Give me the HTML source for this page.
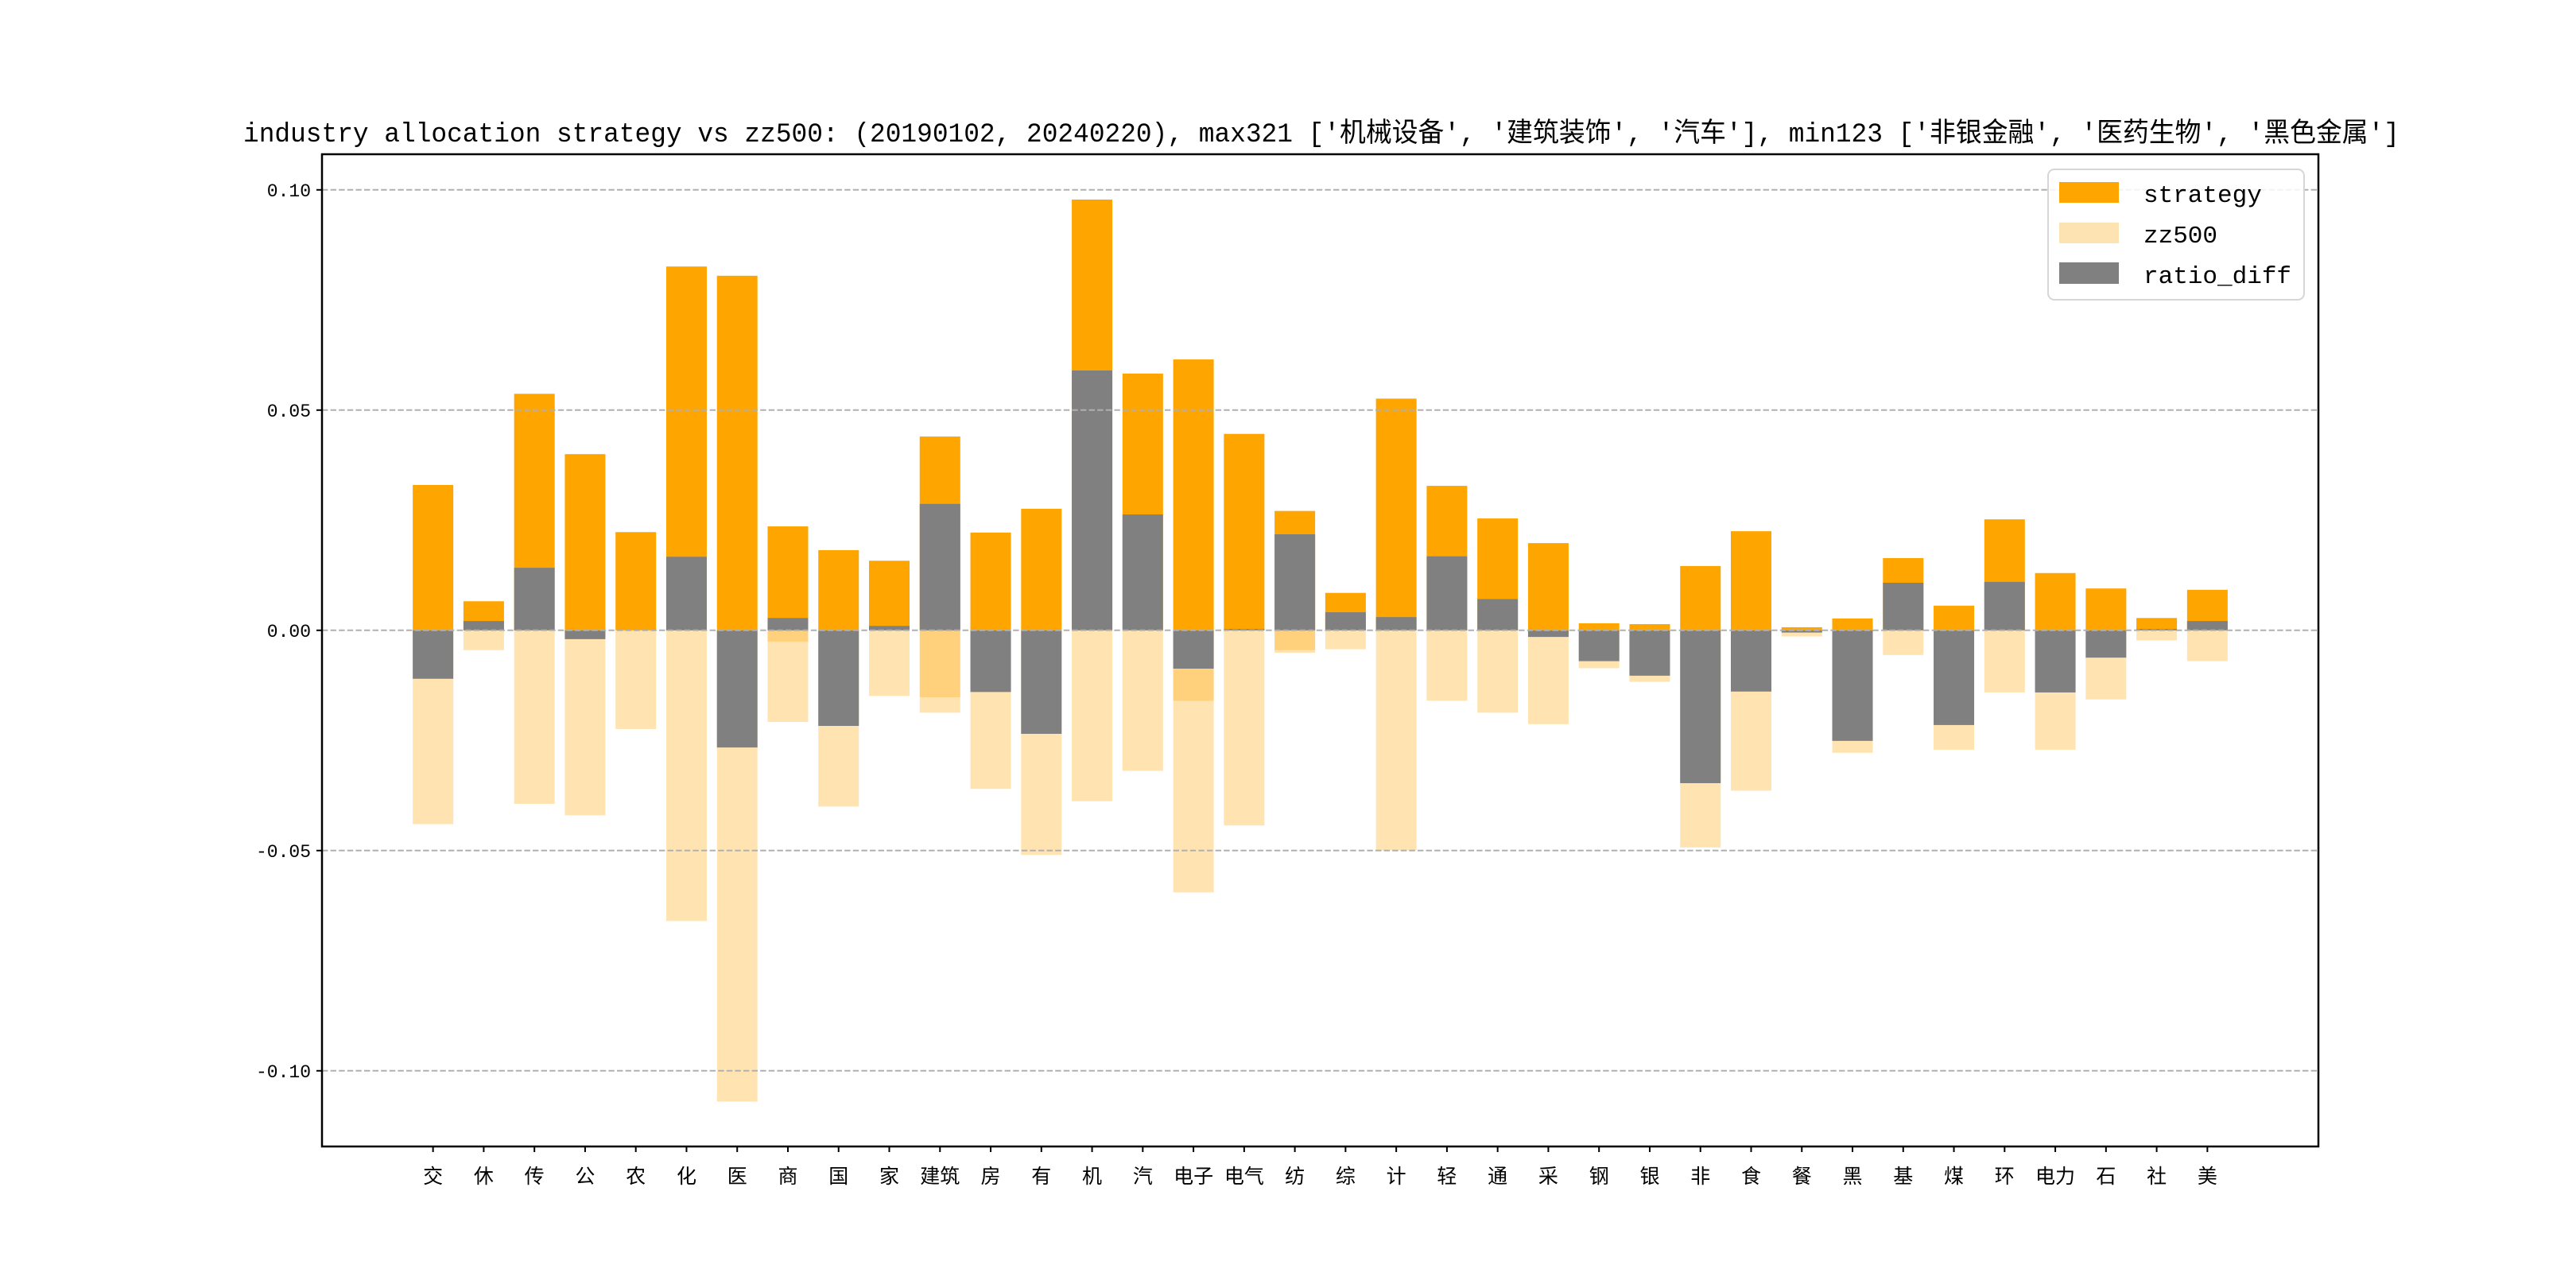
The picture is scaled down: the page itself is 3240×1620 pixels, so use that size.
<!DOCTYPE html>
<html><head><meta charset="utf-8"><style>
html,body{margin:0;padding:0;background:#fff;}
svg{display:block;}
text{font-family:"Liberation Sans","Noto Sans CJK SC",sans-serif;fill:#000;}
text.mono{font-family:"Liberation Mono","Noto Sans CJK SC",monospace;}
</style></head><body>
<svg id="chart" width="3240" height="1620" viewBox="0 0 3240 1620" xmlns="http://www.w3.org/2000/svg">
<rect x="0" y="0" width="3240" height="1620" fill="#fff"/>
<text class="mono" x="1662" y="178" font-size="34" text-anchor="middle" textLength="2712" lengthAdjust="spacingAndGlyphs">industry allocation strategy vs zz500: (20190102, 20240220), max321 ['机械设备', '建筑装饰', '汽车'], min123 ['非银金融', '医药生物', '黑色金属']</text>
<g id="bars"></g>
<g id="grid"></g>
<g id="axes"></g>
<g id="legend">
<rect x="2576" y="213" width="322" height="164" rx="8" fill="#fff" fill-opacity="0.85" stroke="#d6d6d6" stroke-width="2"/>
<rect x="2590" y="229" width="75" height="26" fill="#ffa500"/>
<text class="mono" x="2696" y="254" font-size="31">strategy</text>
<rect x="2590" y="280" width="75" height="26" fill="#fee3b2"/>
<text class="mono" x="2696" y="305" font-size="31">zz500</text>
<rect x="2590" y="330" width="75" height="27" fill="#808080"/>
<text class="mono" x="2696" y="356" font-size="31">ratio_diff</text>
</g>
</svg>
<script>
const categories = ['交','休','传','公','农','化','医','商','国','家','建筑','房','有','机','汽','电子','电气','纺','综','计','轻','通','采','钢','银','非','食','餐','黑','基','煤','环','电力','石','社','美'];
const strategyValues = [0.033,0.0066,0.0537,0.040,0.0223,0.0826,0.0805,0.0236,0.0182,0.0158,0.044,0.0222,0.0276,0.0978,0.0583,0.0615,0.0446,0.0271,0.0085,0.0526,0.0328,0.0254,0.0198,0.0016,0.0014,0.0146,0.0225,0.0007,0.0027,0.0164,0.0056,0.0252,0.013,0.0095,0.0028,0.0092];
const zz500Values = [-0.044,-0.0045,-0.0394,-0.042,-0.0224,-0.066,-0.107,-0.0208,-0.040,-0.0149,-0.0187,-0.036,-0.051,-0.0388,-0.0319,-0.0595,-0.0443,-0.0051,-0.0043,-0.050,-0.016,-0.0187,-0.0213,-0.0086,-0.0117,-0.0493,-0.0364,-0.0014,-0.0278,-0.0056,-0.0271,-0.0141,-0.0271,-0.0157,-0.0023,-0.007];
const overlapValues = [0,0,0,0,0,0,0,-0.0026,0,0,-0.0152,0,0,0,0,-0.016,0,-0.0045,0,0,0,0,0,0,0,0,0,0,0,0,0,0,0,0,0,0];
const ratioDiffValues = [-0.011,0.0021,0.0142,-0.002,0,0.0167,-0.0266,0.0028,-0.0217,0.001,0.0287,-0.014,-0.0235,0.059,0.0263,-0.0087,0.0003,0.0218,0.0041,0.003,0.0168,0.0071,-0.0015,-0.007,-0.0103,-0.0347,-0.0139,-0.0005,-0.0251,0.0108,-0.0215,0.011,-0.0141,-0.0062,0.0003,0.0021];
const yTicks = [0.10,0.05,0.00,-0.05,-0.10];
const yTickLabels = ['0.10','0.05','0.00','-0.05','-0.10'];

const NS='http://www.w3.org/2000/svg';
const AX={l:405,r:2916,t:194,b:1442};
const n=categories.length;
const span=(n-1+0.8)*1.1;
const step=(AX.r-AX.l)/span;
const x0=AX.l+((n-1+0.8)*0.05+0.4)*step;
function xScale(i){return x0+i*step;}
const zeroY=792.8, perUnit=5540;
function yScale(v){return zeroY-v*perUnit;}
const bw=0.8*step;
function mk(tag,attrs,parent){const e=document.createElementNS(NS,tag);for(const k in attrs)e.setAttribute(k,attrs[k]);parent.appendChild(e);return e;}
function bar(i,v,fill,op,parent){
  const y1=yScale(v),y2=yScale(0);
  return mk('rect',{x:xScale(i)-bw/2,y:Math.min(y1,y2),width:bw,height:Math.abs(y2-y1),fill:fill,'fill-opacity':op},parent);
}
const bars=document.getElementById('bars');
for(let i=0;i<n;i++){
  const a=bar(i,strategyValues[i],'#ffa500',1,bars);
  
  
}
for(let i=0;i<n;i++){
  const b=bar(i,zz500Values[i],'#ffa500',0.3,bars);
  
  
  if(overlapValues[i]!==0){
    const o=bar(i,overlapValues[i],'#ffa500',0.3,bars);
    
    
  }
}
for(let i=0;i<n;i++){
  const c=bar(i,ratioDiffValues[i],'#808080',1,bars);
  
  
}
const grid=document.getElementById('grid');
const axes=document.getElementById('axes');
yTicks.forEach((t,k)=>{
  const y=yScale(t);
  const g=mk('line',{x1:AX.l,x2:AX.r,y1:y,y2:y,stroke:'#b0b0b0','stroke-width':2,'stroke-dasharray':'7.4,3.2'},grid);
  
  
  const tk=mk('line',{x1:AX.l-7,x2:AX.l,y1:y,y2:y,stroke:'#000','stroke-width':2},axes);
  
  
  const lb=mk('text',{x:AX.l-14,y:y+8,'font-size':23,'text-anchor':'end','class':'mono'},axes);
  lb.textContent=yTickLabels[k];
  
  
});
categories.forEach((c,i)=>{
  const x=xScale(i);
  const tk=mk('line',{x1:x,x2:x,y1:AX.b,y2:AX.b+7,stroke:'#000','stroke-width':2},axes);
  
  
  const lb=mk('text',{x:x,y:1488,'font-size':25,'text-anchor':'middle'},axes);
  lb.textContent=c;
  
  
});
const frame=mk('rect',{x:AX.l,y:AX.t,width:AX.r-AX.l,height:AX.b-AX.t,fill:'none',stroke:'#000','stroke-width':2.5},axes);


</script>
</body></html>
